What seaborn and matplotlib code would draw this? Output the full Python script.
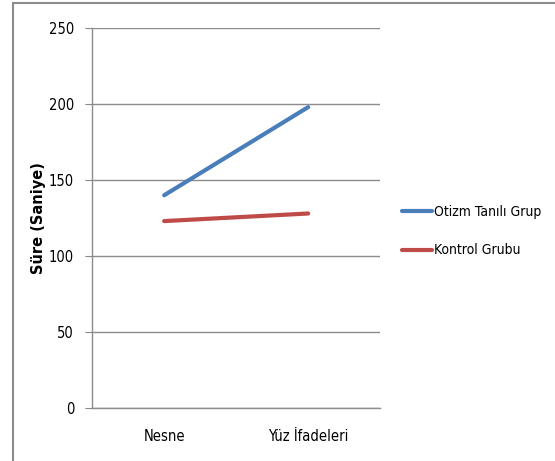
import pandas as pd
import matplotlib.pyplot as plt
import seaborn as sns
from matplotlib.patches import Rectangle

# chart data
categories = ["Nesne", "Yüz İfadeleri"]
groups = ["Otizm Tanılı Grup", "Kontrol Grubu"]
otizm = [140, 198]
kontrol = [123, 128]
y_ticks = [0, 50, 100, 150, 200, 250]

df = pd.DataFrame({
    "kategori": categories * 2,
    "x": [0, 1, 0, 1],
    "sure": otizm + kontrol,
    "grup": [groups[0]] * 2 + [groups[1]] * 2,
})

sns.set_style("white")
plt.rcParams['font.family'] = ['DejaVu Sans']
plt.rcParams['font.stretch'] = 'condensed'
plt.rcParams['text.color'] = 'black'
plt.rcParams['axes.labelcolor'] = 'black'

fig = plt.figure(figsize=(5.55, 4.61), dpi=100)
ax = fig.add_axes([0.166, 0.115, 0.519, 0.824])

sns.lineplot(
    data=df, x="x", y="sure", hue="grup",
    palette=["#4a7ebb", "#be4b48"], linewidth=3, ax=ax, legend=False,
)

ax.set_xlim(-0.5, 1.5)
ax.set_ylim(0, 250)
ax.set_yticks(y_ticks)
ax.set_yticklabels([str(v) for v in y_ticks], fontsize=10.5)
ax.set_xticks([0, 1])
ax.set_xticklabels(categories, fontsize=10.5)
ax.set_xticks([-0.5, 0.5, 1.5], minor=True)
ax.tick_params(axis="x", which="major", length=0, pad=15, labelcolor="black")
ax.tick_params(axis="x", which="minor", length=5, color="#888888", direction="out")
ax.tick_params(axis="y", length=5, color="#888888", labelcolor="black", direction="out", left=True, pad=8)

ax.yaxis.grid(True, color="#8c8c8c", linewidth=1)
ax.set_axisbelow(True)
for s in ["top", "right"]:
    ax.spines[s].set_visible(False)
for s in ["left", "bottom"]:
    ax.spines[s].set_color("#8c8c8c")
    ax.spines[s].set_linewidth(1)

ax.set_xlabel("")
ax.set_ylabel("Süre (Saniye)", fontsize=10.5, fontweight="bold", fontstretch="normal", labelpad=2)

handles = [plt.Line2D([], [], color=c, linewidth=3) for c in ["#4a7ebb", "#be4b48"]]
fig.legend(handles, groups, loc="upper left", bbox_to_anchor=(0.724, 0.555),
           frameon=False, fontsize=10, handlelength=2.2, handletextpad=0.1,
           labelspacing=1.75, borderpad=0, borderaxespad=0)

fig.patches.append(Rectangle((13 / 555, -0.1), 1.2, 1 - 3 / 461 + 0.1,
                             transform=fig.transFigure, fill=False,
                             edgecolor="#8c8c8c", linewidth=1.5))

plt.savefig("out.png", dpi=100)
